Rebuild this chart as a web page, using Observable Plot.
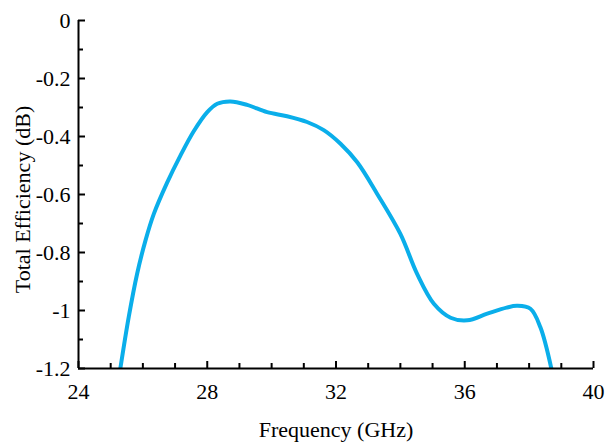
<!DOCTYPE html>
<html>
<head>
<meta charset="utf-8">
<script src="https://cdn.jsdelivr.net/npm/d3@7"></script>
<script src="https://cdn.jsdelivr.net/npm/@observablehq/plot@0.6"></script>
<style>
  html, body { margin: 0; padding: 0; background: #fff; }
  #chart svg { display: block; }
  #chart svg text { font-family: 'Liberation Serif', 'Times New Roman', serif; font-size: 22px; fill: #000; font-variant: normal; }
</style>
</head>
<body>
<div id="chart"></div>
<script>
const freq = [25.3, 25.56, 25.82, 26.08, 26.34, 26.75, 27.17, 27.58, 28.0, 28.31, 28.72, 29.24, 29.86, 30.48, 31.1, 31.62, 32.14, 32.66, 33.28, 34.0, 34.52, 35.04, 35.56, 36.08, 36.7, 37.3, 37.63, 38.04, 38.35, 38.69];
const eff  = [-1.2, -1.023, -0.874, -0.759, -0.667, -0.56, -0.465, -0.382, -0.316, -0.287, -0.279, -0.291, -0.316, -0.33, -0.35, -0.378, -0.425, -0.489, -0.598, -0.736, -0.874, -0.977, -1.025, -1.034, -1.011, -0.99, -0.984, -0.994, -1.058, -1.2];
const xMajor = [24, 28, 32, 36, 40];
const xMinor = [25, 26, 27, 29, 30, 31, 33, 34, 35, 37, 38, 39];
const yMajor = [0, -0.2, -0.4, -0.6, -0.8, -1, -1.2];
const yMinor = [-0.1, -0.3, -0.5, -0.7, -0.9, -1.1];

const data = freq.map((f, i) => ({f, e: eff[i]}));
const font = "'Liberation Serif', 'Times New Roman', serif";

const chart = Plot.plot({
  width: 608,
  height: 443,
  marginLeft: 78,
  marginRight: 15,
  marginTop: 20,
  marginBottom: 75,
  style: {fontFamily: font, fontSize: "22px", color: "#000", background: "#fff"},
  x: {domain: [24, 40]},
  y: {domain: [-1.2, 0]},
  marks: [
    Plot.line(data, {x: "f", y: "e", stroke: "#0aaeea", strokeWidth: 4, curve: "catmull-rom", clip: true}),
    // tick labels
    Plot.axisX({ticks: xMajor, tickSize: 0, tickPadding: 15, tickFormat: d => String(d), label: null, fontSize: 22}),
    Plot.axisY({ticks: yMajor, tickSize: 0, tickPadding: 8, tickFormat: d => String(d), label: null, fontSize: 22}),
    // inward ticks
    Plot.axisX({ticks: xMajor, tickSize: 7, dy: -7, tickFormat: () => "", label: null, strokeWidth: 2}),
    Plot.axisX({ticks: xMinor, tickSize: 5, dy: -5, tickFormat: () => "", label: null, strokeWidth: 2}),
    Plot.axisY({ticks: yMajor, tickSize: 7, dx: 7, tickFormat: () => "", label: null, strokeWidth: 2}),
    Plot.axisY({ticks: yMinor, tickSize: 5, dx: 5, tickFormat: () => "", label: null, strokeWidth: 2}),
    // axis lines
    Plot.ruleX([24], {stroke: "#000", strokeWidth: 2}),
    Plot.ruleY([-1.2], {stroke: "#000", strokeWidth: 2}),
    // axis titles
    Plot.text(["Frequency (GHz)"], {frameAnchor: "bottom", textAnchor: "middle", lineAnchor: "bottom", dy: 68, fontSize: 22, fill: "#000"}),
    Plot.text(["Total Efficiency (dB)"], {frameAnchor: "left", textAnchor: "middle", lineAnchor: "bottom", rotate: -90, dx: -49, dy: 5, fontSize: 22, fill: "#000"})
  ]
});
document.getElementById("chart").appendChild(chart);
</script>
</body>
</html>
